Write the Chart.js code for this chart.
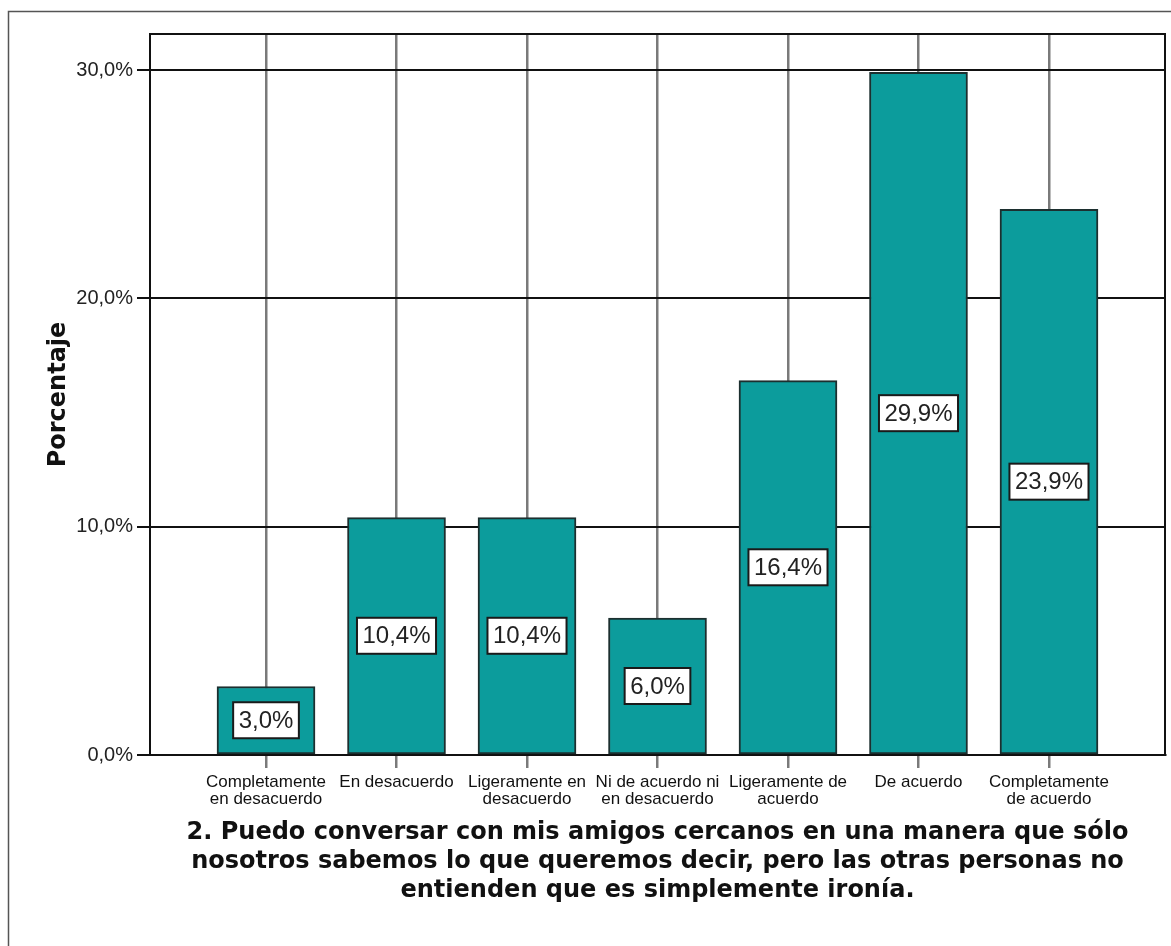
<!DOCTYPE html>
<html>
<head>
<meta charset="utf-8">
<script src="https://cdn.jsdelivr.net/npm/chart.js@4/dist/chart.umd.min.js"></script>
<style>
  body { margin: 0; background: #fff; }
  canvas { display: block; }
</style>
</head>
<body>
<canvas id="barChart" width="1171" height="946"></canvas>
<script>
// Data
const categories = [
    ['Completamente', 'en desacuerdo'],
    ['En desacuerdo'],
    ['Ligeramente en', 'desacuerdo'],
    ['Ni de acuerdo ni', 'en desacuerdo'],
    ['Ligeramente de', 'acuerdo'],
    ['De acuerdo'],
    ['Completamente', 'de acuerdo']
];
const percentages = [3.0, 10.4, 10.4, 6.0, 16.4, 29.9, 23.9];
const yTicks = [0, 10, 20, 30];
const xTitle = [
    '2. Puedo conversar con mis amigos cercanos en una manera que sólo',
    'nosotros sabemos lo que queremos decir, pero las otras personas no',
    'entienden que es simplemente ironía.'
];
const yTitle = 'Porcentaje';

function pct(v) {
    return v.toFixed(1).replace('.', ',') + '%';
}

// outer frame + plot frame
const framePlugin = {
    id: 'framePlugin',
    beforeDraw(chart) {
        const ctx = chart.ctx;
        ctx.save();
        ctx.fillStyle = '#fff';
        ctx.fillRect(0, 0, chart.width, chart.height);
        ctx.strokeStyle = '#555';
        ctx.lineWidth = 1.5;
        ctx.beginPath();
        ctx.moveTo(8.5, chart.height);
        ctx.lineTo(8.5, 11.5);
        ctx.lineTo(chart.width, 11.5);
        ctx.stroke();
        ctx.restore();
    },
    beforeDatasetsDraw(chart) {
        const a = chart.chartArea;
        const ctx = chart.ctx;
        ctx.save();
        ctx.strokeStyle = '#111';
        ctx.lineWidth = 2;
        ctx.strokeRect(a.left, a.top, a.right - a.left, a.bottom - a.top);
        ctx.restore();
    }
};

// value boxes in the middle of each bar
const valueBoxes = {
    id: 'valueBoxes',
    afterDatasetsDraw(chart) {
        const ctx = chart.ctx;
        const meta = chart.getDatasetMeta(0);
        ctx.save();
        ctx.font = '24px "Liberation Sans", Arial, sans-serif';
        ctx.textAlign = 'center';
        ctx.textBaseline = 'middle';
        meta.data.forEach(function(bar, i) {
            const txt = pct(percentages[i]);
            const w = ctx.measureText(txt).width + 11;
            const h = 36;
            const cy = (bar.y + bar.base) / 2;
            ctx.fillStyle = '#fff';
            ctx.fillRect(bar.x - w / 2, cy - h / 2, w, h);
            ctx.strokeStyle = '#1a1a1a';
            ctx.lineWidth = 2;
            ctx.strokeRect(bar.x - w / 2, cy - h / 2, w, h);
            ctx.fillStyle = '#222';
            ctx.fillText(txt, bar.x, cy + 1);
        });
        ctx.restore();
    }
};

new Chart(document.getElementById('barChart').getContext('2d'), {
    type: 'bar',
    data: {
        datasets: [{
            data: percentages.map((v, i) => ({ x: i, y: v })),
            backgroundColor: '#0c9c9c',
            borderColor: '#1c2f2f',
            borderWidth: 2,
            borderSkipped: false,
            barThickness: 98
        }]
    },
    options: {
        responsive: false,
        animation: false,
        layout: { padding: { top: 34, right: 6, left: 0, bottom: 0 } },
        plugins: {
            legend: { display: false },
            tooltip: { enabled: false }
        },
        scales: {
            x: {
                type: 'linear',
                min: -0.889,
                max: 6.889,
                offset: false,
                afterBuildTicks: function(scale) {
                    scale.ticks = categories.map((c, i) => ({ value: i }));
                },
                afterFit: function(scale) { scale.height = 191; },
                grid: {
                    offset: false,
                    color: '#7a7a7a',
                    lineWidth: 2.5,
                    tickColor: '#7a7a7a',
                    tickLength: 13,
                    drawTicks: true
                },
                border: { display: true, color: '#111', width: 2 },
                ticks: {
                    autoSkip: false,
                    maxRotation: 0,
                    padding: 6,
                    color: '#111',
                    font: { family: '"Liberation Sans", Arial, sans-serif', size: 17, lineHeight: 1.0 },
                    callback: function(value) { return categories[value]; }
                },
                title: {
                    display: true,
                    text: xTitle,
                    color: '#111',
                    font: { family: '"DejaVu Sans", sans-serif', size: 24, weight: 'bold', lineHeight: 1.2 },
                    padding: { top: 0, bottom: 41 }
                }
            },
            y: {
                min: 0,
                max: 31.58,
                afterBuildTicks: function(scale) {
                    scale.ticks = yTicks.map(v => ({ value: v }));
                },
                afterFit: function(scale) { scale.width = 150; },
                grid: {
                    color: '#111',
                    lineWidth: 2,
                    tickColor: '#111',
                    tickLength: 13
                },
                border: { display: true, color: '#111', width: 2 },
                ticks: {
                    padding: 4,
                    color: '#222',
                    font: { family: '"Liberation Sans", Arial, sans-serif', size: 20 },
                    callback: function(value) { return pct(value); }
                },
                title: {
                    display: true,
                    text: yTitle,
                    color: '#111',
                    font: { family: '"DejaVu Sans", sans-serif', size: 24, weight: 'bold' },
                    padding: { top: 44, bottom: 0 }
                }
            }
        }
    },
    plugins: [framePlugin, valueBoxes]
});
</script>
</body>
</html>
